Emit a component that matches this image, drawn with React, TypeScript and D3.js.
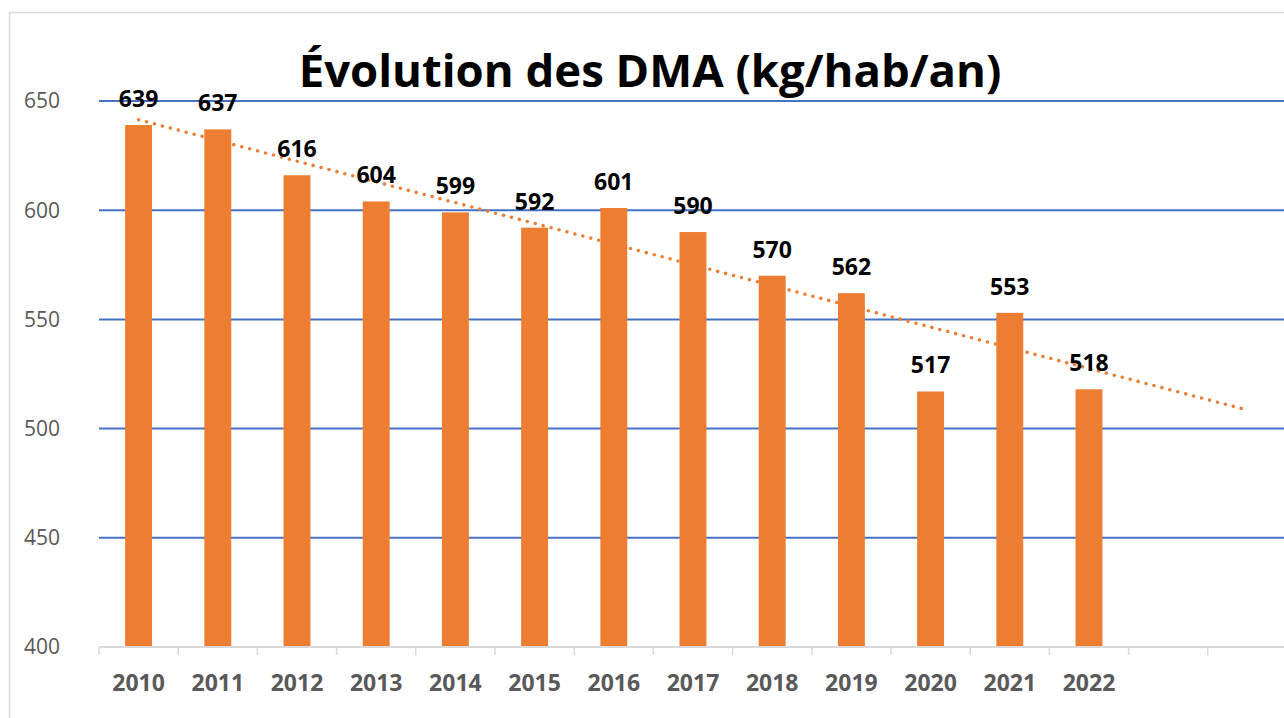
import React from 'react';
import * as d3 from 'd3';

// données
const years = ['2010', '2011', '2012', '2013', '2014', '2015', '2016', '2017', '2018', '2019', '2020', '2021', '2022'];
const dma = [639, 637, 616, 604, 599, 592, 601, 590, 570, 562, 517, 553, 518];
const yTicks = [400, 450, 500, 550, 600, 650];
const forecastPeriods = 2; // la courbe de tendance se prolonge de 2 périodes
const title = 'Évolution des DMA (kg/hab/an)';

const W = 1284;
const H = 718;
const margin = { top: 101, right: -3, bottom: 71, left: 99 };

const font = '"Open Sans", "Noto Sans", sans-serif';

export default function App() {
  const slots = [...years, ...d3.range(forecastPeriods).map(i => `__f${i}`)];

  const x = d3.scaleBand<string>()
    .domain(slots)
    .range([margin.left, W - margin.right])
    .padding(0);

  const y = d3.scaleLinear()
    .domain([400, 650])
    .range([H - margin.bottom, margin.top]);

  const barW = x.bandwidth() * 0.34;
  const cx = (k: string) => (x(k) ?? 0) + x.bandwidth() / 2;

  // tendance linéaire (moindres carrés) sur les indices 1..n
  const idx = dma.map((_, i) => i + 1);
  const mx = d3.mean(idx) as number;
  const my = d3.mean(dma) as number;
  const slope = d3.sum(idx, (v, i) => (v - mx) * (dma[i] - my)) / d3.sum(idx, v => (v - mx) ** 2);
  const trend = slots.map((k, i) => ({ k, v: my + slope * (i + 1 - mx) }));

  const line = d3.line<{ k: string; v: number }>()
    .x(d => cx(d.k))
    .y(d => y(d.v));

  const baseY = y(400);

  return (
    <svg width={W} height={H} style={{ position: 'absolute', left: 0, top: 0, background: '#fff' }}>
      <rect x={9.5} y={12.5} width={W + 10} height={H + 10} fill="#fff" stroke="#d9d9d9" strokeWidth={1.5} />

      <text x={650} y={87} textAnchor="middle" fontFamily={font} fontWeight={700} fontSize={45.5} fill="#000">
        {title}
      </text>

      {yTicks.filter(t => t > 400).map(t => (
        <line key={t} x1={margin.left} x2={W} y1={y(t)} y2={y(t)} stroke="#4472c4" strokeWidth={2} />
      ))}
      {yTicks.map(t => (
        <text key={t} x={60} y={y(t)} dy="0.35em" textAnchor="end" fontFamily={font} fontSize={21} fill="#595959">
          {t}
        </text>
      ))}

      <path d={line(trend) ?? ''} fill="none" stroke="#ed7d31" strokeWidth={3.6}
        strokeDasharray="0 8.2" strokeLinecap="round" />

      {years.map((yr, i) => (
        <rect key={yr} x={cx(yr) - barW / 2} y={y(dma[i])} width={barW} height={baseY - y(dma[i])}
          fill="#ed7d31" />
      ))}

      <line x1={margin.left} x2={W} y1={baseY} y2={baseY} stroke="#d9d9d9" strokeWidth={2} />
      {slots.map(k => (
        <line key={k} x1={x(k)} x2={x(k)} y1={baseY} y2={baseY + 8} stroke="#d9d9d9" strokeWidth={1.5} />
      ))}

      {years.map((yr, i) => (
        <text key={yr} x={cx(yr)} y={y(dma[i]) - 18} textAnchor="middle" fontFamily={font}
          fontWeight={700} fontSize={23} fill="#000">
          {dma[i]}
        </text>
      ))}

      {years.map(yr => (
        <text key={yr} x={cx(yr)} y={691} textAnchor="middle" fontFamily={font}
          fontWeight={700} fontSize={23} fill="#595959">
          {yr}
        </text>
      ))}
    </svg>
  );
}
